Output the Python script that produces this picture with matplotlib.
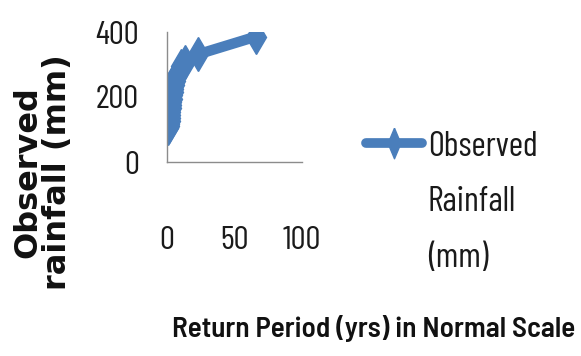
import matplotlib
matplotlib.use("Agg")
import matplotlib.pyplot as plt
from matplotlib.lines import Line2D

# Return period (years) and ranked observed rainfall (mm)
return_period = [66, 22.7, 13.3, 10.5, 8.5, 7.0, 6.0, 5.2, 4.6, 4.2, 3.8, 3.5,
                 3.2, 2.95, 2.7, 2.5, 2.3, 2.1, 1.9, 1.7, 1.45, 1.1]
rainfall = [386, 331, 309, 295, 274, 262, 250, 238, 226, 216, 205, 195,
            185, 175, 165, 155, 145, 135, 125, 117, 110, 105]
x_ticks = [0, 50, 100]
y_ticks = [0, 200, 400]
series_name = "Observed\nRainfall\n(mm)"

narrow = ["Barlow Condensed", "DejaVu Sans"]
semi = ["Barlow Semi Condensed", "DejaVu Sans"]
blue = "#4a7ebb"
ink = "#1a1a1a"

fig = plt.figure(figsize=(5.81, 3.56), dpi=100)
ax = fig.add_axes([167 / 581, 1 - 162 / 356, 135 / 581, 130 / 356])

ax.plot(return_period, rainfall, color=blue, lw=7.5, marker="d",
        markersize=17, solid_joinstyle="round", solid_capstyle="round")

ax.set_xlim(0, 100)
ax.set_ylim(0, 400)
ax.set_xticks(x_ticks)
ax.set_yticks(y_ticks)
for s in ["top", "right"]:
    ax.spines[s].set_visible(False)
for s in ["left", "bottom"]:
    ax.spines[s].set_color("#8c8c8c")
    ax.spines[s].set_linewidth(1.0)
ax.tick_params(length=0, labelsize=24, colors=ink)
ax.tick_params(axis="x", pad=46)
ax.tick_params(axis="y", pad=20)
for lab in ax.get_xticklabels() + ax.get_yticklabels():
    lab.set_family(narrow)

fig.text(43 / 581, 1 - 172 / 356, "Observed\nrainfall (mm)", rotation=90,
         ha="center", va="center", fontsize=23, fontweight="bold",
         family="DejaVu Sans", linespacing=0.95, color="#111111")

fig.text(172 / 581, 1 - 329 / 356, "Return Period (yrs) in Normal Scale",
         ha="left", va="center", fontsize=21, fontweight="semibold",
         family=semi, color="#111111")

# Legend entry drawn beside the plot
y_leg = 1 - 143 / 356
tall_diamond = [(0, 1), (0.42, 0), (0, -1), (-0.42, 0), (0, 1)]
fig.add_artist(Line2D([366 / 581, 422 / 581], [y_leg, y_leg],
                      transform=fig.transFigure, color=blue, lw=7,
                      solid_capstyle="round"))
fig.add_artist(Line2D([394 / 581], [y_leg], transform=fig.transFigure,
                      color=blue, marker=tall_diamond, markersize=22, lw=0))
fig.text(428 / 581, 1 - 131 / 356, series_name, ha="left", va="top",
         fontsize=25, family=narrow, color=ink, linespacing=1.94)

fig.savefig("out.png", dpi=100)
